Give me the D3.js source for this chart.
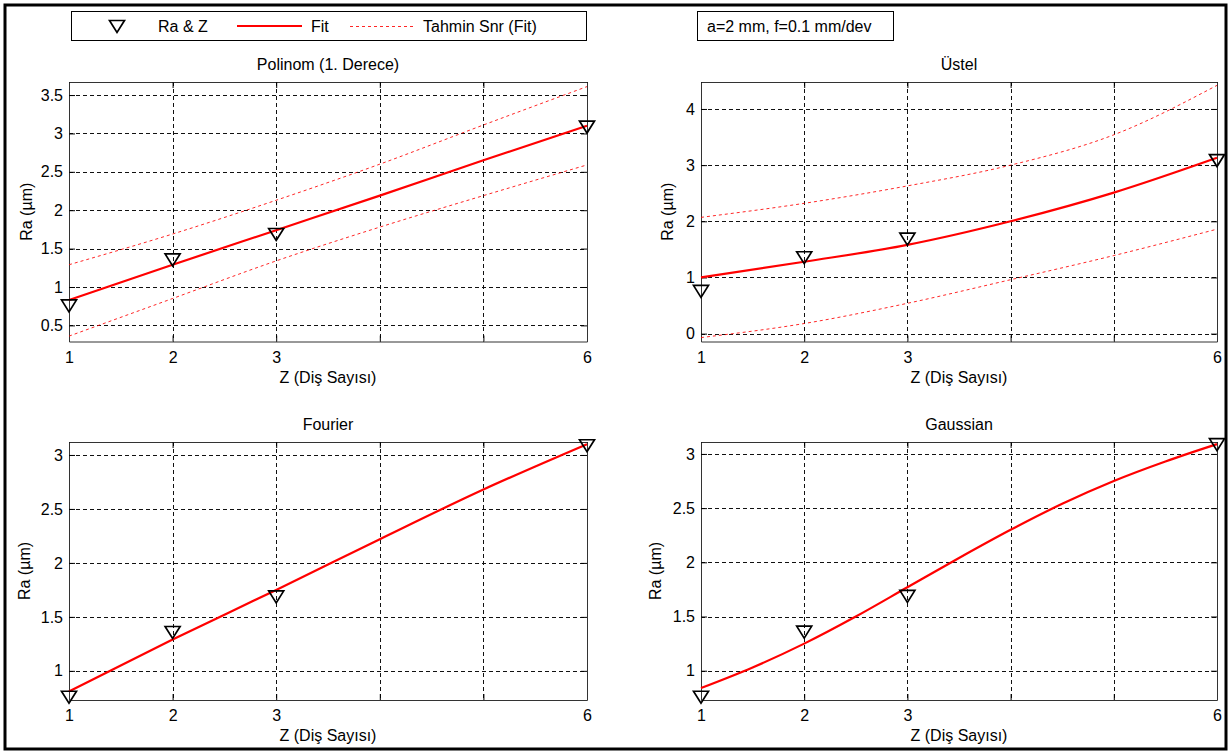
<!DOCTYPE html>
<html>
<head>
<meta charset="utf-8">
<script src="https://cdn.jsdelivr.net/npm/d3@7"></script>
<style>
  body { margin: 0; background: #fff; }
  svg text { font-family: "Liberation Sans", Arial, sans-serif; font-size: 16px; fill: #000; }
</style>
</head>
<body>
<div id="chart"></div>
<script>
// measured data (Ra vs Z)
var zValues = [1, 2, 3, 6];
var raValues = [0.76, 1.36, 1.69, 3.09];

// fit curves
var fitZ = [1, 2, 3, 4, 5, 6];
var polyFit = [0.83, 1.29, 1.74, 2.19, 2.65, 3.10];
var polyUpper = [1.29, 1.69, 2.13, 2.60, 3.11, 3.61];
var polyLower = [0.36, 0.85, 1.34, 1.78, 2.19, 2.59];
var expFit = [1.00, 1.28, 1.58, 2.00, 2.51, 3.13];
var expUpper = [2.07, 2.32, 2.63, 3.00, 3.54, 4.42];
var expLower = [-0.07, 0.18, 0.54, 0.96, 1.39, 1.86];
var fourierFit = [0.81, 1.29, 1.75, 2.22, 2.68, 3.10];
var gaussZ = [1, 1.5, 2, 2.5, 3, 3.5, 4, 4.5, 5, 5.5, 6];
var gaussFit = [0.84, 1.03, 1.25, 1.50, 1.77, 2.04, 2.30, 2.54, 2.75, 2.93, 3.09];

// ticks
var xTicks = [1, 2, 3, 4, 5, 6];
var xTickLabels = ['1', '2', '3', '', '', '6'];
var yTicksPoly = [0.5, 1, 1.5, 2, 2.5, 3, 3.5];
var yTicksExp = [0, 1, 2, 3, 4];
var yTicksLow = [1, 1.5, 2, 2.5, 3];

var legendLabels = ['Ra & Z', 'Fit', 'Tahmin Snr (Fit)'];
var infoText = 'a=2 mm, f=0.1 mm/dev';
var xLabel = 'Z (Di\u015f Say\u0131s\u0131)';
var yLabel = 'Ra (\u00b5m)';

var red = '#ff0000';
var width = 1229, height = 753;

var svg = d3.select('#chart').append('svg')
    .attr('width', width)
    .attr('height', height);

svg.append('rect')
    .attr('x', 5).attr('y', 5)
    .attr('width', 1221).attr('height', 744)
    .attr('fill', '#fff')
    .attr('stroke', '#000')
    .attr('stroke-width', 3);

var markerPath = 'M-7.5,-5.5L7.5,-5.5L0,6.5Z';

function pairs(xs, ys) {
    return xs.map(function(x, i) { return [x, ys[i]]; });
}

function drawPanel(p) {
    var x = d3.scaleLinear().domain([1, 6]).range([p.left, p.right]);
    var y = d3.scaleLinear().domain(p.yDomain).range([p.bottom, p.top]);
    var g = svg.append('g');

    // grid
    g.selectAll('.vgrid').data(xTicks).enter().append('line')
        .attr('x1', function(d) { return Math.round(x(d)) + 0.5; })
        .attr('x2', function(d) { return Math.round(x(d)) + 0.5; })
        .attr('y1', p.top).attr('y2', p.bottom)
        .attr('stroke', '#111').attr('stroke-dasharray', '4,3');
    g.selectAll('.hgrid').data(p.yTicks).enter().append('line')
        .attr('y1', function(d) { return Math.round(y(d)) + 0.5; })
        .attr('y2', function(d) { return Math.round(y(d)) + 0.5; })
        .attr('x1', p.left).attr('x2', p.right)
        .attr('stroke', '#111').attr('stroke-dasharray', '4,3');

    // axes (ticks inside, box on)
    var fmtX = function(d) { return xTickLabels[xTicks.indexOf(d)]; };
    var axes = [
        [d3.axisBottom(x).tickValues(xTicks).tickFormat(fmtX), 'translate(0,' + p.bottom + ')', 10],
        [d3.axisTop(x).tickValues(xTicks).tickFormat(''), 'translate(0,' + p.top + ')', 0],
        [d3.axisLeft(y).tickValues(p.yTicks).tickFormat(d3.format('')), 'translate(' + p.left + ',0)', 6],
        [d3.axisRight(y).tickValues(p.yTicks).tickFormat(''), 'translate(' + p.right + ',0)', 0]
    ];
    axes.forEach(function(a) {
        var ax = g.append('g').attr('transform', a[1])
            .call(a[0].tickSizeInner(-6).tickSizeOuter(0).tickPadding(a[2]));
        ax.select('.domain').attr('stroke', '#333');
        ax.selectAll('.tick line').attr('stroke', '#000');
        ax.selectAll('text').attr('font-size', null).attr('font-family', null).attr('fill', '#000');
    });

    // prediction bounds
    var line = d3.line()
        .x(function(d) { return x(d[0]); })
        .y(function(d) { return y(d[1]); })
        .curve(d3.curveMonotoneX);
    (p.bounds || []).forEach(function(b) {
        g.append('path')
            .attr('d', line(pairs(fitZ, b)))
            .attr('fill', 'none')
            .attr('stroke', red)
            .attr('stroke-opacity', 0.85)
            .attr('stroke-width', 1)
            .attr('stroke-dasharray', '3,3');
    });

    // fit
    g.append('path')
        .attr('d', line(pairs(p.fitX, p.fit)))
        .attr('fill', 'none')
        .attr('stroke', red)
        .attr('stroke-width', 2.2);

    // markers
    g.selectAll('.pt').data(pairs(zValues, raValues)).enter().append('path')
        .attr('d', markerPath)
        .attr('transform', function(d) { return 'translate(' + x(d[0]) + ',' + y(d[1]) + ')'; })
        .attr('fill', 'none')
        .attr('stroke', '#000')
        .attr('stroke-width', 1.7);

    // labels
    g.append('text')
        .attr('x', (p.left + p.right) / 2).attr('y', p.top - 12)
        .attr('text-anchor', 'middle')
        .text(p.title);
    g.append('text')
        .attr('x', (p.left + p.right) / 2).attr('y', p.bottom + 41)
        .attr('text-anchor', 'middle')
        .text(xLabel);
    g.append('text')
        .attr('transform', 'translate(' + (p.left - p.ylabelOffset) + ',' + ((p.top + p.bottom) / 2) + ') rotate(-90)')
        .attr('text-anchor', 'middle')
        .attr('dy', '0.35em')
        .text(yLabel);
}

drawPanel({ left: 69, right: 587, top: 82, bottom: 341.5, yDomain: [0.29, 3.67], yTicks: yTicksPoly,
    title: 'Polinom (1. Derece)', fitX: fitZ, fit: polyFit, bounds: [polyUpper, polyLower], ylabelOffset: 43 });
drawPanel({ left: 701, right: 1217, top: 82, bottom: 341.5, yDomain: [-0.14, 4.48], yTicks: yTicksExp,
    title: '\u00dcstel', fitX: fitZ, fit: expFit, bounds: [expUpper, expLower], ylabelOffset: 34 });
drawPanel({ left: 69, right: 587, top: 442, bottom: 700, yDomain: [0.73, 3.12], yTicks: yTicksLow,
    title: 'Fourier', fitX: fitZ, fit: fourierFit, ylabelOffset: 45 });
drawPanel({ left: 701, right: 1217, top: 442, bottom: 700, yDomain: [0.73, 3.11], yTicks: yTicksLow,
    title: 'Gaussian', fitX: gaussZ, fit: gaussFit, ylabelOffset: 46 });

// legend
var lg = svg.append('g');
lg.append('rect')
    .attr('x', 71.5).attr('y', 11.5).attr('width', 515).attr('height', 29)
    .attr('fill', '#fff').attr('stroke', '#000');
lg.append('path').attr('d', markerPath)
    .attr('transform', 'translate(117,26)')
    .attr('fill', 'none').attr('stroke', '#000').attr('stroke-width', 1.7);
lg.append('text').attr('x', 158).attr('y', 32).text(legendLabels[0]);
lg.append('line').attr('x1', 237).attr('x2', 302).attr('y1', 26).attr('y2', 26)
    .attr('stroke', red).attr('stroke-width', 2.2);
lg.append('text').attr('x', 311).attr('y', 32).text(legendLabels[1]);
lg.append('line').attr('x1', 350).attr('x2', 413).attr('y1', 26.5).attr('y2', 26.5)
    .attr('stroke', red).attr('stroke-opacity', 0.85).attr('stroke-dasharray', '3,3');
lg.append('text').attr('x', 423).attr('y', 32).text(legendLabels[2]);

// info box
svg.append('rect')
    .attr('x', 697.5).attr('y', 11.5).attr('width', 196).attr('height', 29)
    .attr('fill', '#fff').attr('stroke', '#000');
svg.append('text').attr('x', 707).attr('y', 32).text(infoText);
</script>
</body>
</html>
